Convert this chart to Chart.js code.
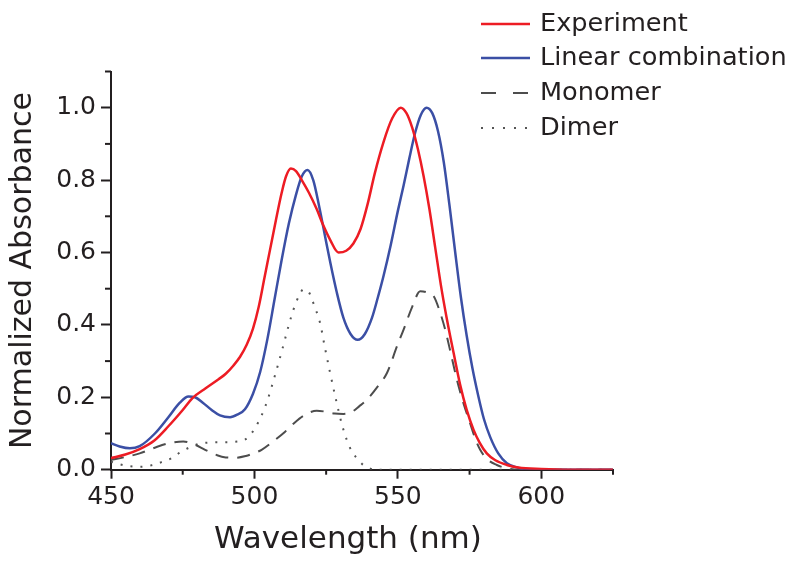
<!DOCTYPE html>
<html><head><meta charset="utf-8">
<script src="https://cdn.jsdelivr.net/npm/chart.js@4/dist/chart.umd.min.js"></script>
<style>html,body{margin:0;padding:0;background:#fff}#wrap{width:800px;height:571px;position:relative}</style>
</head><body><div id="wrap"><canvas id="c"></canvas></div>
<script>
// Experiment (red)
const expWl  = [450,455,460,465,470,475,478.4,483,487.5,490,492.7,495,497.3,499.5,501.5,503.5,505.5,507.5,509.5,511,512.7,514.5,516.5,519,521.7,524,526.4,529.3,532,534.5,537,539.5,542,545,548,551,553,555,557,559,561,563,565,567,569.5,571.7,574,576.4,578.5,581,584,588,592,600,610,625];
const expAbs = [0.032,0.042,0.057,0.08,0.12,0.165,0.198,0.225,0.25,0.265,0.288,0.312,0.345,0.39,0.45,0.53,0.61,0.69,0.765,0.81,0.832,0.825,0.80,0.765,0.72,0.675,0.635,0.60,0.605,0.625,0.665,0.735,0.82,0.905,0.97,1.0,0.985,0.945,0.885,0.81,0.72,0.615,0.51,0.42,0.32,0.235,0.165,0.11,0.075,0.045,0.026,0.013,0.006,0.002,0,0];
// Linear combination (blue)
const linWl  = [450,453,456.6,460,465.3,470,474,477,479.3,482,485.1,488,491.5,494,496.7,499.5,502,504.5,507,509.5,512,514.5,516.5,518.5,520.5,522.5,524.5,526.5,528.7,531,533.5,536,538.5,541,543,545,547.5,550,552,554,556,558,560,562,564,566,568,570,572,574,576,578,580,582.2,585,588,592,596,610,625];
const linAbs = [0.073,0.064,0.059,0.065,0.10,0.145,0.185,0.202,0.20,0.185,0.165,0.15,0.145,0.152,0.167,0.21,0.27,0.36,0.47,0.58,0.68,0.76,0.81,0.828,0.80,0.73,0.65,0.57,0.49,0.42,0.375,0.359,0.375,0.42,0.475,0.535,0.62,0.715,0.785,0.86,0.93,0.98,1.0,0.985,0.935,0.85,0.73,0.60,0.475,0.37,0.28,0.205,0.14,0.09,0.045,0.018,0.005,0,0,0];
// Monomer (dashed)
const monWl  = [450,455,460,465,470,475.2,479,482.8,487,490,493.3,497,500,502.5,506,510.7,514,517.7,521.7,525,528,531,534,536.5,539.2,543,546.2,549.7,552,555,557.8,560,562.5,564.5,566.5,568.5,570.6,573,575.2,577,578.7,581,584.5,588,592,625];
const monAbs = [0.027,0.035,0.045,0.06,0.073,0.078,0.07,0.055,0.04,0.034,0.033,0.038,0.046,0.055,0.075,0.105,0.13,0.152,0.163,0.16,0.155,0.154,0.16,0.175,0.193,0.23,0.267,0.341,0.387,0.45,0.493,0.49,0.479,0.44,0.387,0.32,0.248,0.18,0.128,0.085,0.055,0.03,0.013,0.004,0,0];
// Dimer (dotted)
const dimWl  = [450,453,456,460,464,468,471.2,474.5,478.1,481,484,489,494.4,497.9,500.2,502.5,504.6,507.5,509.8,512,513.6,515.5,517.1,519,521,522.9,524.5,526.4,528.7,530.5,532.2,534,535.7,537.5,539.2,542,625];
const dimAbs = [0.022,0.015,0.01,0.008,0.012,0.022,0.032,0.05,0.064,0.072,0.075,0.076,0.078,0.09,0.115,0.15,0.193,0.27,0.335,0.40,0.442,0.48,0.498,0.49,0.45,0.405,0.34,0.267,0.184,0.125,0.082,0.05,0.032,0.016,0.008,0,0];

const seriesNames = ['Experiment','Linear combination','Monomer','Dimer'];
const xTickLabels = [450,500,550,600];
const yTickLabels = ['0.0','0.2','0.4','0.6','0.8','1.0'];
const xTitle = 'Wavelength (nm)';
const yTitle = 'Normalized Absorbance';

const FONT = '"DejaVu Sans", "Liberation Sans", Arial, sans-serif';
const INK = '#231f20';
const pts = (w,a) => w.map((x,i)=>({x:x,y:a[i]}));

const minorTicks = {
  id:'minorTicks',
  afterDraw(chart){
    const ctx = chart.ctx, xs = chart.scales.x, ys = chart.scales.y;
    ctx.save();
    ctx.strokeStyle = INK; ctx.lineWidth = 2;
    xs.ticks.forEach(t=>{
      if (xTickLabels.includes(t.value)) return;
      const px = xs.getPixelForValue(t.value);
      ctx.beginPath(); ctx.moveTo(px, xs.top); ctx.lineTo(px, xs.top+5); ctx.stroke();
    });
    ys.ticks.forEach(t=>{
      if (Math.round(t.value*10)%2===0) return;
      const py = ys.getPixelForValue(t.value);
      ctx.beginPath(); ctx.moveTo(ys.right, py); ctx.lineTo(ys.right-6, py); ctx.stroke();
    });
    // x-axis title (slightly left of the axis centre, as in the original)
    ctx.fillStyle = INK;
    ctx.font = '31px ' + FONT;
    ctx.textAlign = 'center';
    ctx.textBaseline = 'middle';
    ctx.fillText(xTitle, 348, 540);
    ctx.restore();
  }
};

const customLegend = {
  id:'customLegend',
  afterDraw(chart){
    const ctx = chart.ctx;
    const rows = [24,58,93,128];
    ctx.save();
    chart.data.datasets.forEach((ds,i)=>{
      const y = rows[i];
      ctx.beginPath();
      ctx.strokeStyle = ds.borderColor;
      ctx.lineWidth = ds.borderWidth;
      ctx.setLineDash(ds.legendDash || []);
      ctx.moveTo(481,y); ctx.lineTo(530,y); ctx.stroke();
      ctx.setLineDash([]);
      ctx.fillStyle = INK;
      ctx.font = '25.6px ' + FONT;
      ctx.textAlign = 'left';
      ctx.textBaseline = 'middle';
      ctx.fillText(ds.label, 540, y);
    });
    ctx.restore();
  }
};

new Chart(document.getElementById('c'), {
  type:'line',
  data:{ datasets:[
    {label:seriesNames[0], data:pts(expWl,expAbs), borderColor:'#ed1c24', borderWidth:2.5, legendDash:[]},
    {label:seriesNames[1], data:pts(linWl,linAbs), borderColor:'#3b4fa5', borderWidth:2.5, legendDash:[]},
    {label:seriesNames[2], data:pts(monWl,monAbs), borderColor:'#4d4d4d', borderWidth:2, borderDash:[13,9], legendDash:[15,17]},
    {label:seriesNames[3], data:pts(dimWl,dimAbs), borderColor:'#555555', borderWidth:2, borderDash:[2,8], legendDash:[2,9]}
  ]},
  options:{
    responsive:true, maintainAspectRatio:false, animation:false,
    layout:{padding:{left:0, top:71.5, right:187, bottom:0}},
    elements:{point:{radius:0}, line:{cubicInterpolationMode:'monotone', fill:false}},
    plugins:{legend:{display:false}, tooltip:{enabled:false}},
    scales:{
      x:{type:'linear', min:450, max:625,
        afterFit(s){ s.height = 101.3; },
        border:{display:true, color:INK, width:2},
        grid:{display:true, drawOnChartArea:false, drawTicks:true, tickLength:9, tickWidth:2,
          tickColor:(c)=> (c.tick && xTickLabels.includes(c.tick.value)) ? INK : 'rgba(0,0,0,0)'},
        ticks:{stepSize:25, autoSkip:false, maxRotation:0, padding:4, color:INK, font:{family:FONT, size:25},
          callback:(v)=> xTickLabels.includes(v) ? String(v) : ''},
        title:{display:false}
      },
      y:{type:'linear', min:0, max:1.1,
        afterFit(s){ s.width = 111; },
        border:{display:true, color:INK, width:2},
        grid:{display:true, drawOnChartArea:false, drawTicks:true, tickLength:10, tickWidth:2,
          tickColor:(c)=> (c.tick && Math.round(c.tick.value*10)%2===0) ? INK : 'rgba(0,0,0,0)'},
        ticks:{stepSize:0.1, autoSkip:false, padding:5, color:INK, font:{family:FONT, size:25},
          callback:(v)=> { const k = Math.round(v*10); return k%2===0 ? yTickLabels[k/2] : ''; }},
        title:{display:true, text:yTitle, color:INK, font:{family:FONT, size:30}, padding:{top:5,bottom:0}}
      }
    }
  },
  plugins:[minorTicks, customLegend]
});
</script>
</body></html>
